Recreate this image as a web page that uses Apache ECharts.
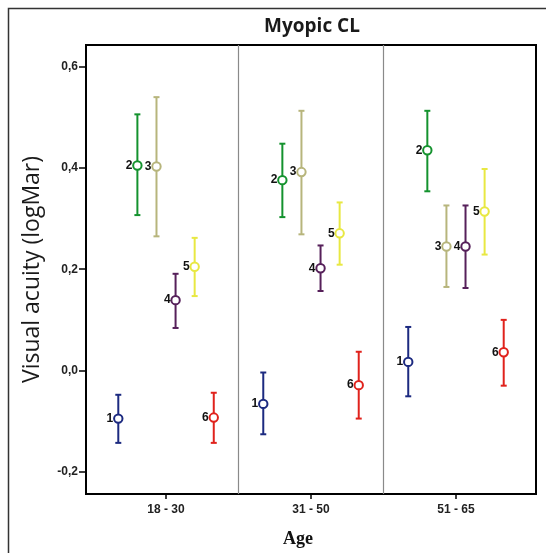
<!DOCTYPE html>
<html>
<head>
<meta charset="utf-8">
<script src="https://cdn.jsdelivr.net/npm/echarts@6/dist/echarts.min.js"></script>
<style>html,body{margin:0;padding:0;background:#fff;}#chart{width:546px;height:553px;}</style>
</head>
<body>
<div id="chart"></div>
<script>
// ---- data ----
const ageGroups = ['18 - 30', '31 - 50', '51 - 65'];
const groupNames = ['1', '2', '3', '4', '5', '6'];
const groupColors = ['#1c2a80', '#14922e', '#b7b57c', '#56205a', '#e8e842', '#e0221c'];
// mean per group, in ageGroups order
const mean1 = [-0.095, -0.066, 0.017];
const mean2 = [0.405, 0.376, 0.435];
const mean3 = [0.403, 0.392, 0.245];
const mean4 = [0.139, 0.202, 0.245];
const mean5 = [0.205, 0.271, 0.314];
const mean6 = [-0.093, -0.029, 0.036];
// lower error bar per group
const low1 = [-0.143, -0.126, -0.051];
const low2 = [0.307, 0.303, 0.354];
const low3 = [0.265, 0.269, 0.165];
const low4 = [0.084, 0.157, 0.163];
const low5 = [0.147, 0.209, 0.229];
const low6 = [-0.143, -0.095, -0.030];
// upper error bar per group
const high1 = [-0.048, -0.004, 0.086];
const high2 = [0.506, 0.448, 0.513];
const high3 = [0.540, 0.513, 0.326];
const high4 = [0.191, 0.247, 0.326];
const high5 = [0.262, 0.332, 0.398];
const high6 = [-0.044, 0.037, 0.100];
const yTickValues = [-0.2, 0, 0.2, 0.4, 0.6];
const yTickLabels = ['-0,2', '0,0', '0,2', '0,4', '0,6'];
const xTickValues = [0, 1, 2];
const panelDividers = [0.5, 1.5];

const means = [mean1, mean2, mean3, mean4, mean5, mean6];
const lows = [low1, low2, low3, low4, low5, low6];
const highs = [high1, high2, high3, high4, high5, high6];

const chart = echarts.init(document.getElementById('chart'), null, {renderer: 'canvas'});

function makeSeries(gi) {
  const color = groupColors[gi];
  const s = {
    type: 'custom',
    name: groupNames[gi],
    data: ageGroups.map((c, i) => [xTickValues[i], means[gi][i], lows[gi][i], highs[gi][i]]),
    encode: {x: 0, y: [1, 2, 3]},
    renderItem: function (params, api) {
      const unit = api.size([1, 0])[0];
      const off = (gi - 2.5) * unit * 0.1317;
      const pm = api.coord([api.value(0), api.value(1)]);
      const pl = api.coord([api.value(0), api.value(2)]);
      const ph = api.coord([api.value(0), api.value(3)]);
      const x = pm[0] + off;
      const cap = 3;
      return {
        type: 'group',
        children: [
          {type: 'line', shape: {x1: x, y1: ph[1], x2: x, y2: pl[1]}, style: {stroke: color, lineWidth: 2}},
          {type: 'line', shape: {x1: x - cap, y1: ph[1], x2: x + cap, y2: ph[1]}, style: {stroke: color, lineWidth: 2}},
          {type: 'line', shape: {x1: x - cap, y1: pl[1], x2: x + cap, y2: pl[1]}, style: {stroke: color, lineWidth: 2}},
          {type: 'circle', shape: {cx: x, cy: pm[1], r: 4.2}, style: {fill: '#fff', stroke: color, lineWidth: 2}},
          {type: 'text', style: {x: x - 5, y: pm[1], text: groupNames[gi], align: 'right', verticalAlign: 'middle',
            fill: '#111', font: 'bold 12px "Liberation Sans", Arial, sans-serif'}}
        ]
      };
    }
  };
  if (gi === 0) {
    s.markLine = {
      silent: true, symbol: 'none', label: {show: false},
      lineStyle: {color: '#8a8a8a', width: 1.2, type: 'solid'},
      data: panelDividers.map(v => ({xAxis: v}))
    };
  }
  return s;
}

chart.setOption({
  animation: false,
  backgroundColor: '#fff',
  title: {
    text: 'Myopic CL', left: 307, top: 12, textAlign: 'center',
    textStyle: {fontFamily: '"Open Sans", sans-serif', fontSize: 19, fontWeight: 'bold', color: '#1a1a1a'}
  },
  graphic: [{
    type: 'rect', shape: {x: 8.5, y: 8.5, width: 600, height: 600},
    style: {fill: 'none', stroke: '#333', lineWidth: 1.5}, silent: true
  }],
  grid: {left: 86, right: 10, top: 45, bottom: 49, show: true, borderColor: '#000', borderWidth: 2, backgroundColor: 'transparent'},
  xAxis: {
    type: 'value', min: -0.552, max: 2.552,
    name: 'Age', nameLocation: 'middle', nameGap: 36,
    nameTextStyle: {fontFamily: '"Liberation Serif", "Times New Roman", serif', fontSize: 18, fontWeight: 'bold', color: '#111', padding: [0, 26, 0, 0]},
    axisLine: {onZero: false, lineStyle: {color: '#000', width: 2}},
    axisTick: {show: true, length: 5, customValues: xTickValues, lineStyle: {color: '#000', width: 1.5}},
    axisLabel: {
      customValues: xTickValues, margin: 10,
      fontFamily: '"Liberation Sans", Arial, sans-serif', fontSize: 12, fontWeight: 'bold', color: '#222',
      formatter: function (v) { const k = xTickValues.indexOf(Math.round(v)); return k >= 0 ? ageGroups[k] : ''; }
    },
    splitLine: {show: false}
  },
  yAxis: {
    type: 'value', min: -0.244, max: 0.643,
    name: 'Visual acuity (logMar)', nameLocation: 'middle', nameGap: 42,
    nameTextStyle: {fontFamily: '"Open Sans", sans-serif', fontSize: 23, color: '#1a1a1a'},
    axisLine: {show: true, onZero: false, lineStyle: {color: '#000', width: 2}},
    axisTick: {show: true, length: 7, customValues: yTickValues, lineStyle: {color: '#000', width: 1.5}},
    axisLabel: {
      customValues: yTickValues, margin: 8,
      fontFamily: '"Liberation Sans", Arial, sans-serif', fontSize: 12, fontWeight: 'bold', color: '#222',
      formatter: function (v) {
        const k = yTickValues.findIndex(t => Math.abs(t - v) < 1e-6);
        return k >= 0 ? yTickLabels[k] : '';
      }
    },
    splitLine: {show: false}
  },
  series: groupNames.map((n, gi) => makeSeries(gi))
});
</script>
</body>
</html>
